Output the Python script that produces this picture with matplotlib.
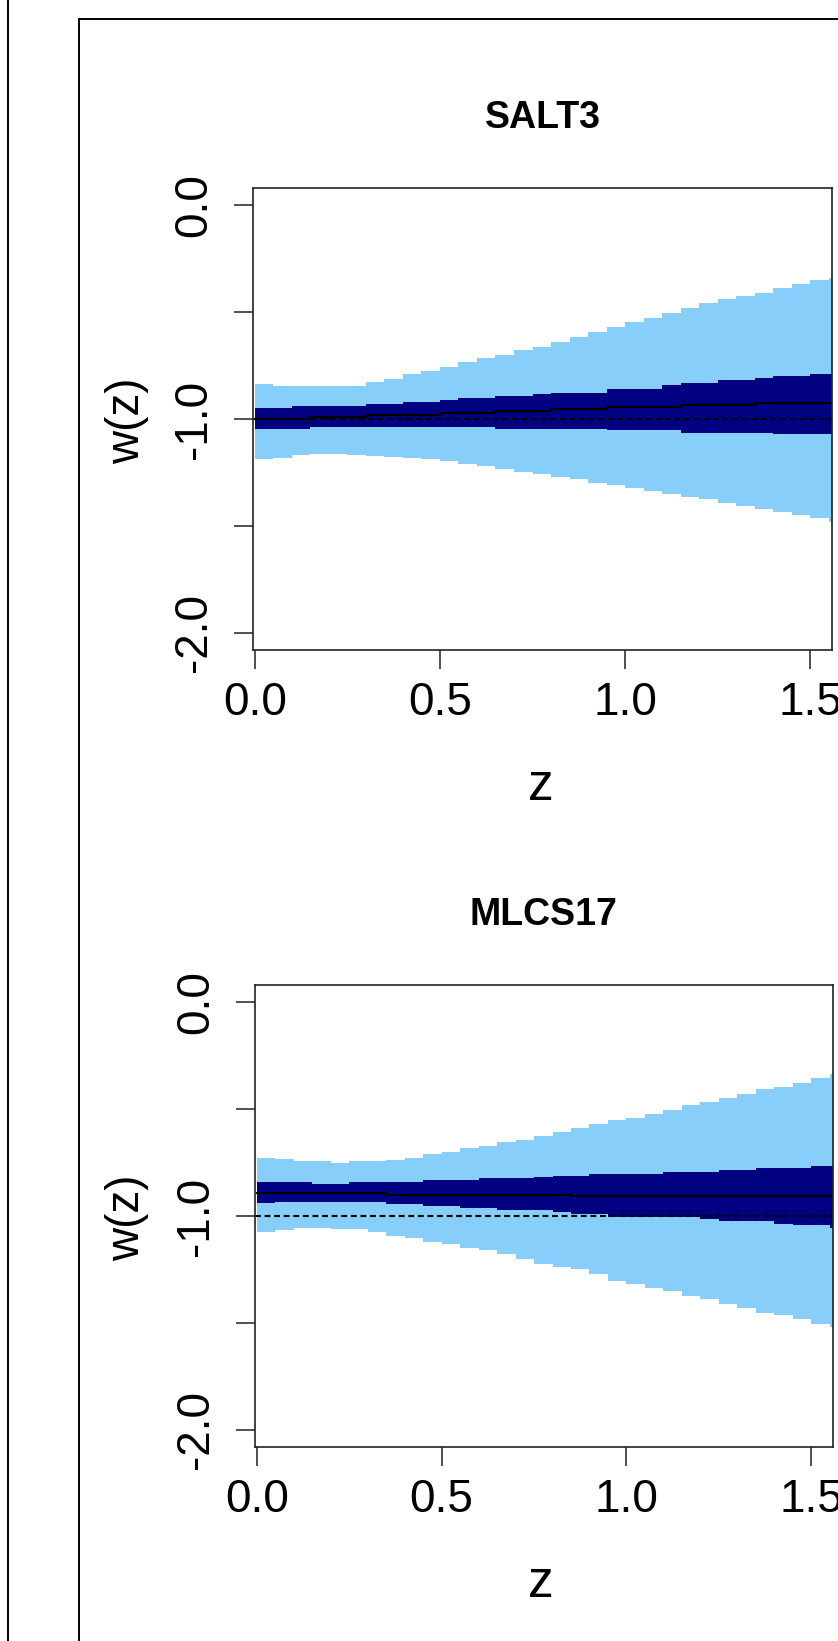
import matplotlib
matplotlib.use("Agg")
import matplotlib.pyplot as plt
from matplotlib.lines import Line2D
import numpy as np

plt.rcParams['font.family'] = ['Liberation Sans', 'DejaVu Sans']

W, H = 838, 1641

# bin starts in z (read every 0.05)
z = np.round(np.arange(0, 1.551, 0.05), 2)

# SALT3 panel
salt_hi2 = [-0.838, -0.847, -0.847, -0.847, -0.847, -0.847, -0.827, -0.811, -0.791, -0.776,
            -0.757, -0.734, -0.716, -0.701, -0.679, -0.663, -0.640, -0.617, -0.592, -0.570,
            -0.545, -0.526, -0.503, -0.480, -0.456, -0.441, -0.425, -0.410, -0.389, -0.371,
            -0.352, -0.339]
salt_lo2 = [-1.189, -1.181, -1.170, -1.165, -1.165, -1.168, -1.173, -1.176, -1.181, -1.189,
            -1.196, -1.209, -1.220, -1.235, -1.246, -1.259, -1.272, -1.282, -1.298, -1.308,
            -1.321, -1.336, -1.352, -1.365, -1.375, -1.391, -1.407, -1.422, -1.433, -1.449,
            -1.464, -1.480]
salt_hi1 = [-0.949, -0.949, -0.941, -0.941, -0.941, -0.941, -0.931, -0.931, -0.922, -0.922,
            -0.913, -0.903, -0.903, -0.894, -0.894, -0.885, -0.877, -0.877, -0.877, -0.858,
            -0.858, -0.858, -0.843, -0.830, -0.830, -0.819, -0.819, -0.810, -0.799, -0.799,
            -0.791, -0.791]
salt_lo1 = [-1.045, -1.045, -1.045, -1.036, -1.036, -1.036, -1.036, -1.036, -1.036, -1.036,
            -1.036, -1.036, -1.036, -1.045, -1.045, -1.045, -1.045, -1.045, -1.045, -1.053,
            -1.053, -1.053, -1.053, -1.064, -1.064, -1.064, -1.064, -1.064, -1.072, -1.072,
            -1.072, -1.072]
salt_mean = [-0.998, -0.998, -0.998, -0.991, -0.991, -0.991, -0.983, -0.983, -0.983, -0.983,
             -0.974, -0.974, -0.974, -0.964, -0.964, -0.964, -0.955, -0.952, -0.952, -0.944,
             -0.944, -0.944, -0.944, -0.936, -0.936, -0.936, -0.936, -0.927, -0.927, -0.927,
             -0.927, -0.927]

# MLCS17 panel
mlcs_hi2 = [-0.727, -0.735, -0.744, -0.744, -0.750, -0.744, -0.744, -0.737, -0.727, -0.709,
            -0.701, -0.681, -0.671, -0.653, -0.643, -0.625, -0.606, -0.590, -0.572, -0.550,
            -0.540, -0.522, -0.506, -0.483, -0.467, -0.447, -0.428, -0.406, -0.397, -0.378,
            -0.353, -0.335]
mlcs_lo2 = [-1.075, -1.067, -1.056, -1.056, -1.062, -1.062, -1.075, -1.092, -1.101, -1.122,
            -1.129, -1.148, -1.157, -1.179, -1.201, -1.223, -1.238, -1.249, -1.273, -1.304,
            -1.316, -1.337, -1.351, -1.374, -1.386, -1.410, -1.428, -1.452, -1.464, -1.480,
            -1.503, -1.519]
mlcs_hi1 = [-0.841, -0.841, -0.841, -0.849, -0.849, -0.841, -0.841, -0.841, -0.841, -0.830,
            -0.830, -0.830, -0.821, -0.821, -0.821, -0.816, -0.811, -0.811, -0.802, -0.802,
            -0.802, -0.802, -0.794, -0.794, -0.794, -0.783, -0.783, -0.774, -0.774, -0.774,
            -0.765, -0.765]
mlcs_lo1 = [-0.940, -0.935, -0.935, -0.935, -0.935, -0.935, -0.935, -0.945, -0.945, -0.953,
            -0.953, -0.961, -0.961, -0.970, -0.970, -0.970, -0.980, -0.989, -0.989, -1.005,
            -1.005, -1.005, -1.005, -1.005, -1.012, -1.023, -1.023, -1.023, -1.036, -1.044,
            -1.044, -1.055]
mlcs_mean = [-0.891, -0.891, -0.891, -0.891, -0.891, -0.891, -0.891, -0.900, -0.900, -0.900,
             -0.900, -0.900, -0.900, -0.900, -0.900, -0.900, -0.900, -0.908, -0.908, -0.908,
             -0.908, -0.908, -0.908, -0.908, -0.908, -0.908, -0.908, -0.908, -0.908, -0.908,
             -0.908, -0.908]

titles = ['SALT3', 'MLCS17']
xticks = [0.0, 0.5, 1.0, 1.5]
xticklabels = ['0.0', '0.5', '1.0', '1.5']
yticks = [0.0, -0.5, -1.0, -1.5, -2.0]
yticklabels = ['0.0', '', '-1.0', '', '-2.0']

light = '#87CEFA'
dark = '#000080'


def fx(px):
    return px / W


def fy(py):
    return 1 - py / H


fig = plt.figure(figsize=(W / 100, H / 100), dpi=100)
fig.patch.set_facecolor('white')

# outer and inner frames of the original page
fig.add_artist(Line2D([fx(8), fx(8)], [0, 1], color='black', lw=1.4))
fig.add_artist(Line2D([fx(79), fx(79)], [0, fy(19)], color='black', lw=1.4))
fig.add_artist(Line2D([fx(79), 1], [fy(19), fy(19)], color='black', lw=1.4))

panels = [
    (salt_lo2, salt_hi2, salt_lo1, salt_hi1, salt_mean, (253, 832, 188, 650)),
    (mlcs_lo2, mlcs_hi2, mlcs_lo1, mlcs_hi1, mlcs_mean, (255, 833, 985, 1447)),
]

zs = np.append(z, 1.56)
for i, (lo2, hi2, lo1, hi1, mean, box) in enumerate(panels):
    l, r, t, b = box
    ax = fig.add_axes([fx(l), fy(b), fx(r) - fx(l), fy(t) - fy(b)])
    ext = lambda v: np.append(v, v[-1])
    ax.fill_between(zs, ext(lo2), ext(hi2), step='post', color=light, lw=0)
    ax.fill_between(zs, ext(lo1), ext(hi1), step='post', color=dark, lw=0)
    ax.step(zs, ext(mean), where='post', color='black', lw=1.5)
    ax.axhline(-1.0, color='black', lw=1.5, dashes=(2.8, 1.8))
    ax.set_xlim(-0.005, 1.559)
    ax.set_ylim(-2.08, 0.08)
    ax.set_xticks(xticks)
    ax.set_xticklabels(xticklabels, fontsize=33)
    ax.set_yticks(yticks)
    ax.set_yticklabels(yticklabels, fontsize=33, rotation=90, va='center')
    ax.tick_params(length=13.5, width=1.1, direction='out', color='#222222')
    ax.tick_params(axis='x', pad=9)
    ax.tick_params(axis='y', pad=13)
    for s in ax.spines.values():
        s.set_linewidth(1.2)
        s.set_color('#222222')
    off = 797 * i
    fig.text(fx(543), fy(128 + off), titles[i], ha='center', va='baseline',
             fontsize=27, fontweight='bold')
    fig.text(fx(541), fy(800 + off), 'z', ha='center', va='baseline', fontsize=37)
    fig.text(fx(127), fy(421 + off), 'w(z)', ha='center', va='center',
             fontsize=33, rotation=90)

fig.savefig('out.png', dpi=100)
